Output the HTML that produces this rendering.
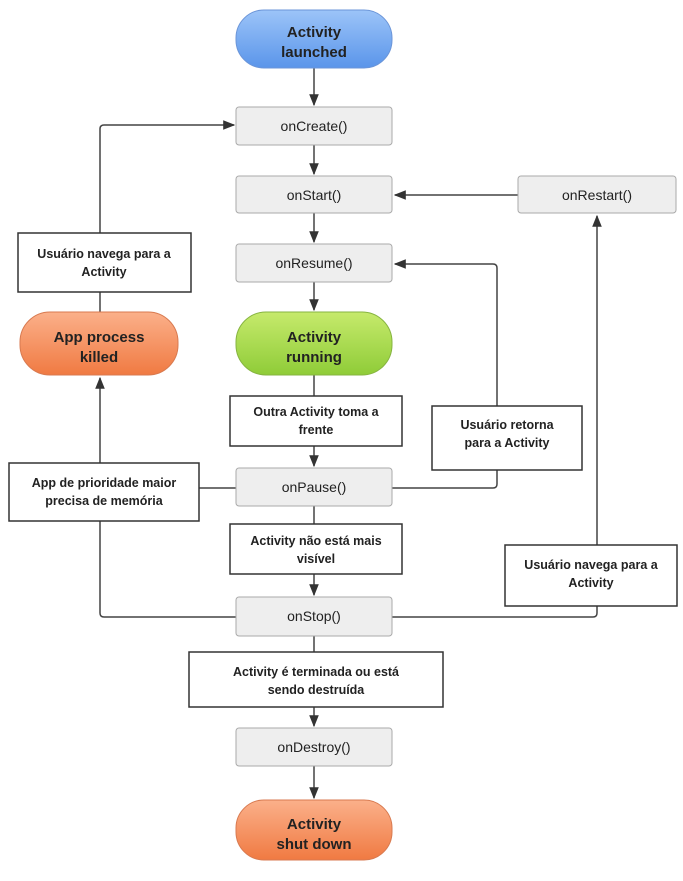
<!DOCTYPE html>
<html><head><meta charset="utf-8"><style>
body{margin:0;background:#fff;width:683px;height:876px;overflow:hidden}
</style></head><body>
<svg width="683" height="876" xmlns="http://www.w3.org/2000/svg" font-family="Liberation Sans, sans-serif">
<defs>
<linearGradient id="gb" x1="0" y1="0" x2="0" y2="1"><stop offset="0" stop-color="#9cc4f8"/><stop offset="1" stop-color="#5a95ea"/></linearGradient>
<linearGradient id="gg" x1="0" y1="0" x2="0" y2="1"><stop offset="0" stop-color="#c6ea6c"/><stop offset="1" stop-color="#8fcc38"/></linearGradient>
<linearGradient id="go" x1="0" y1="0" x2="0" y2="1"><stop offset="0" stop-color="#fbb08a"/><stop offset="1" stop-color="#f07a42"/></linearGradient>
<marker id="a" viewBox="0 0 10 10" refX="9" refY="5" markerWidth="8" markerHeight="8" orient="auto"><path d="M0,1 L10,5 L0,9 z" fill="#333"/></marker>
</defs>
<g stroke="#444" stroke-width="1.5" fill="none">
<line x1="314" y1="68" x2="314" y2="105" marker-end="url(#a)"/>
<line x1="314" y1="145" x2="314" y2="174" marker-end="url(#a)"/>
<line x1="314" y1="213" x2="314" y2="242" marker-end="url(#a)"/>
<line x1="314" y1="282" x2="314" y2="310" marker-end="url(#a)"/>
<line x1="314" y1="375" x2="314" y2="398"/>
<line x1="314" y1="446" x2="314" y2="466" marker-end="url(#a)"/>
<line x1="314" y1="506" x2="314" y2="525"/>
<line x1="314" y1="574" x2="314" y2="595" marker-end="url(#a)"/>
<line x1="314" y1="636" x2="314" y2="652"/>
<line x1="314" y1="707" x2="314" y2="726" marker-end="url(#a)"/>
<line x1="314" y1="766" x2="314" y2="798" marker-end="url(#a)"/>
<path d="M100,233 V129 Q100,125 104,125 H234" marker-end="url(#a)"/>
<line x1="100" y1="292" x2="100" y2="312"/>
<path d="M236,617 H104 Q100,617 100,613 V378" marker-end="url(#a)"/>
<line x1="199" y1="488" x2="236" y2="488"/>
<path d="M392,488 H493 Q497,488 497,484 V268 Q497,264 493,264 H395" marker-end="url(#a)"/>
<path d="M392,617 H593 Q597,617 597,613 V216" marker-end="url(#a)"/>
<line x1="518" y1="195" x2="395" y2="195" marker-end="url(#a)"/>
</g>
<g stroke="#aaa" stroke-width="1" fill="#eee">
<rect x="236" y="107" width="156" height="38" rx="3"/>
<rect x="236" y="176" width="156" height="37" rx="3"/>
<rect x="518" y="176" width="158" height="37" rx="3"/>
<rect x="236" y="244" width="156" height="38" rx="3"/>
<rect x="236" y="468" width="156" height="38" rx="3"/>
<rect x="236" y="597" width="156" height="39" rx="3"/>
<rect x="236" y="728" width="156" height="38" rx="3"/>
</g>
<rect x="236" y="10" width="156" height="58" rx="28" fill="url(#gb)" stroke="#6b95d8"/>
<rect x="236" y="312" width="156" height="63" rx="30" fill="url(#gg)" stroke="#86b440"/>
<rect x="20" y="312" width="158" height="63" rx="30" fill="url(#go)" stroke="#d87a50"/>
<rect x="236" y="800" width="156" height="60" rx="28" fill="url(#go)" stroke="#d87a50"/>
<g stroke="#333" stroke-width="1.5" fill="#fff">
<rect x="18" y="233" width="173" height="59"/>
<rect x="230" y="396" width="172" height="50"/>
<rect x="432" y="406" width="150" height="64"/>
<rect x="9" y="463" width="190" height="58"/>
<rect x="230" y="524" width="172" height="50"/>
<rect x="505" y="545" width="172" height="61"/>
<rect x="189" y="652" width="254" height="55"/>
</g>
<g font-size="14" fill="#222" text-anchor="middle">
<text x="314" y="131">onCreate()</text>
<text x="314" y="200">onStart()</text>
<text x="597" y="200">onRestart()</text>
<text x="314" y="268">onResume()</text>
<text x="314" y="492">onPause()</text>
<text x="314" y="621">onStop()</text>
<text x="314" y="752">onDestroy()</text>
</g>
<g font-size="15" font-weight="bold" fill="#222" text-anchor="middle">
<text x="314" y="37">Activity</text><text x="314" y="57">launched</text>
<text x="314" y="342">Activity</text><text x="314" y="362">running</text>
<text x="99" y="342">App process</text><text x="99" y="362">killed</text>
<text x="314" y="829">Activity</text><text x="314" y="849">shut down</text>
</g>
<g font-size="12.5" font-weight="bold" fill="#222" text-anchor="middle">
<text x="104" y="258">Usuário navega para a</text><text x="104" y="276">Activity</text>
<text x="316" y="416">Outra Activity toma a</text><text x="316" y="434">frente</text>
<text x="507" y="429">Usuário retorna</text><text x="507" y="447">para a Activity</text>
<text x="104" y="487">App de prioridade maior</text><text x="104" y="505">precisa de memória</text>
<text x="316" y="545">Activity não está mais</text><text x="316" y="563">visível</text>
<text x="591" y="569">Usuário navega para a</text><text x="591" y="587">Activity</text>
<text x="316" y="676">Activity é terminada ou está</text><text x="316" y="694">sendo destruída</text>
</g>
</svg>
</body></html>
